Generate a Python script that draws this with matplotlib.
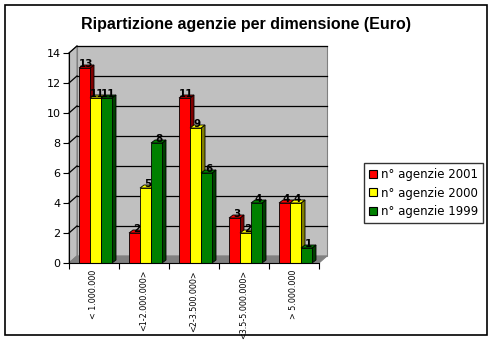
import matplotlib.pyplot as plt
from matplotlib.patches import Polygon, Rectangle
from matplotlib.lines import Line2D

# fasce di fatturato e numero di agenzie per anno
categories = ['< 1.000.000', '<1-2.000.000>', '<2-3.500.000>', '<3.5-5.000.000>', '> 5.000.000']
series_names = ['n° agenzie 2001', 'n° agenzie 2000', 'n° agenzie 1999']
agenzie_2001 = [13, 2, 11, 3, 4]
agenzie_2000 = [11, 5, 9, 2, 4]
agenzie_1999 = [11, 8, 6, 4, 1]
yticks = [0, 2, 4, 6, 8, 10, 12, 14]

series = [agenzie_2001, agenzie_2000, agenzie_1999]
front_colors = ['#ff0000', '#ffff00', '#008000']
side_colors = ['#800000', '#808000', '#004000']

W, H = 493, 341
fig = plt.figure(figsize=(W / 100, H / 100), dpi=100)
ax = fig.add_axes([69 / W, (H - 263) / H, 250 / W, 210 / H])

ymax = 14
ncat = len(categories)
dx, dy = 0.16, 0.47      # profondita' delle pareti
bdx, bdy = 0.08, 0.2     # profondita' delle barre
bw = 0.22

# pareti e pavimento
ax.add_patch(Polygon([(dx, dy), (ncat + dx, dy), (ncat + dx, ymax + dy), (dx, ymax + dy)],
                     closed=True, facecolor='#c0c0c0', edgecolor='#808080', lw=0.8,
                     clip_on=False, zorder=0))
ax.add_patch(Polygon([(0, 0), (dx, dy), (dx, ymax + dy), (0, ymax)],
                     closed=True, facecolor='#c0c0c0', edgecolor='#808080', lw=0.8,
                     clip_on=False, zorder=0.5))
ax.add_patch(Polygon([(0, 0), (ncat, 0), (ncat + dx, dy), (dx, dy)],
                     closed=True, facecolor='#808080', edgecolor='#808080', lw=0.8,
                     clip_on=False, zorder=0.5))
for v in yticks[1:]:
    ax.plot([dx, ncat + dx], [v + dy, v + dy], color='black', lw=0.9, clip_on=False, zorder=1)
    ax.plot([0, dx], [v, v + dy], color='black', lw=0.9, clip_on=False, zorder=1)

# barre con faccia laterale e superiore
z = 2
for i in range(ncat):
    for j, vals in enumerate(series):
        v = vals[i]
        x0 = i + 0.2 + j * bw
        x1 = x0 + bw
        side = Polygon([(x1, 0), (x1 + bdx, bdy), (x1 + bdx, v + bdy), (x1, v)], closed=True,
                       facecolor=side_colors[j], edgecolor='black', lw=0.6, zorder=z)
        top = Polygon([(x0, v), (x0 + bdx, v + bdy), (x1 + bdx, v + bdy), (x1, v)], closed=True,
                      facecolor=front_colors[j], edgecolor='black', lw=0.6, zorder=z)
        front = Rectangle((x0, 0), bw, v, facecolor=front_colors[j], edgecolor='black',
                          lw=0.6, zorder=z + 0.5)
        ax.add_patch(side)
        ax.add_patch(top)
        ax.add_patch(front)
        ax.text(x0 + bw / 2 + 0.04, v - 0.05, str(v), ha='center', va='bottom',
                fontsize=7.5, fontweight='bold', family='DejaVu Sans', zorder=z + 0.6)
        z += 1

ax.set_xlim(0, ncat)
ax.set_ylim(0, ymax)
ax.set_facecolor('none')
for s in ['top', 'right']:
    ax.spines[s].set_visible(False)
ax.spines['left'].set_zorder(50)
ax.spines['bottom'].set_zorder(50)

ax.set_yticks(yticks)
ax.tick_params(axis='y', length=4, width=0.8, labelsize=8, pad=2)
for lab in ax.get_yticklabels():
    lab.set_family('DejaVu Sans')

ax.set_xticks(range(ncat + 1))
ax.set_xticklabels([])
ax.tick_params(axis='x', which='major', length=4, width=0.8, direction='out')
ax.set_xticks([i + 0.5 for i in range(ncat)], minor=True)
ax.set_xticklabels(categories, minor=True, rotation=90, va='top', fontsize=5.8,
                   family='DejaVu Sans')
ax.tick_params(axis='x', which='minor', length=0, pad=5)

fig.text(246 / W, 1 - 25 / H, 'Ripartizione agenzie per dimensione (Euro)', ha='center',
         va='center', fontsize=11.5, fontweight='bold', family='Liberation Sans')

# legenda
handles = [Line2D([0], [0], marker='s', linestyle='none', markersize=6,
                  markerfacecolor=c, markeredgecolor='black', markeredgewidth=0.8)
           for c in front_colors]
leg = fig.legend(handles, series_names, loc='center left',
                 bbox_to_anchor=(364 / W, 1 - 193 / H), frameon=True, fancybox=False,
                 edgecolor='black', handlelength=0.8, handletextpad=0.2, borderpad=0.4,
                 labelspacing=0.45, borderaxespad=0, prop={'family': 'DejaVu Sans', 'size': 8.5})
leg.get_frame().set_linewidth(1)

fig.patches.append(Rectangle((5 / W, 6 / H), 482 / W, 330 / H, transform=fig.transFigure,
                             fill=False, edgecolor='black', lw=1.2))

fig.savefig('out.png', dpi=100)
